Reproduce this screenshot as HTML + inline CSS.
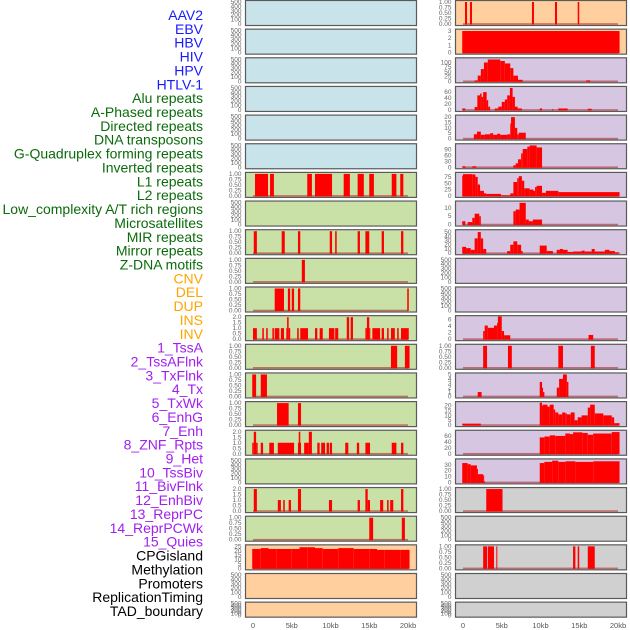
<!DOCTYPE html>
<html><head><meta charset="utf-8">
<style>
html,body{margin:0;padding:0;background:#fff;}
svg{display:block;}
text{font-family:"Liberation Sans",sans-serif;}
</style></head>
<body>
<svg id="chart" width="630" height="630" viewBox="0 0 630 630" xmlns="http://www.w3.org/2000/svg">
<g id="labels"></g>
<g id="panels"></g>
<g id="xaxes"></g>
</svg>
<script>
// ---- track labels ----
const labelNames = ["AAV2","EBV","HBV","HIV","HPV","HTLV-1","Alu repeats","A-Phased repeats","Directed repeats","DNA transposons","G-Quadruplex forming repeats","Inverted repeats","L1 repeats","L2 repeats","Low_complexity A/T rich regions","Microsatellites","MIR repeats","Mirror repeats","Z-DNA motifs","CNV","DEL","DUP","INS","INV","1_TssA","2_TssAFlnk","3_TxFlnk","4_Tx","5_TxWk","6_EnhG","7_Enh","8_ZNF_Rpts","9_Het","10_TssBiv","11_BivFlnk","12_EnhBiv","13_ReprPC","14_ReprPCWk","15_Quies","CPGisland","Methylation","Promoters","ReplicationTiming","TAD_boundary"];
const labelGroups = ["v","v","v","v","v","v","r","r","r","r","r","r","r","r","r","r","r","r","r","s","s","s","s","s","c","c","c","c","c","c","c","c","c","c","c","c","c","c","c","k","k","k","k","k"];
const xTickKb = [0,5,10,15,20];
const xTickLabels = ["0","5kb","10kb","15kb","20kb"];

// ---- panel data: segments [startKb, endKb, value] ----
const segAlu = [[0.26,1.94,1],[2.2,2.7,1],[7.0,7.6,1],[8.0,10.2,1],[11.7,12.5,1],[13.5,14.3,1],[15.0,15.6,1],[17.9,18.5,1],[19.0,19.4,1]];
const segDirected = [[0.1,0.5,1],[3.7,4.1,1],[5.8,6.1,1],[9.9,10.2,1],[10.6,10.8,1],[13.5,13.8,1],[14.5,15.0,1],[16.6,16.9,1],[19.1,19.4,1]];
const segDNA = [[6.3,6.7,1]];
const segGQuad = [[2.8,4.0,1],[4.5,4.8,1],[5.0,5.3,1],[5.8,6.1,1],[19.9,20.1,1]];
const segInverted = [[0,0.5,1],[1.2,1.4,1],[1.7,1.9,1],[2.5,2.7,1],[2.8,3.4,1],[3.6,4.0,1],[4.3,4.4,1],[4.4,4.6,2],[4.6,4.8,1],[5.7,5.9,1],[6.1,7.1,1],[8.0,8.3,1],[8.6,9.0,1],[9.8,10.5,1],[10.6,11.0,1],[12.1,12.4,2],[12.6,12.9,2],[14.5,14.7,1],[14.7,15.0,2],[15.0,15.1,1],[15.4,16.4,1],[16.6,16.9,1],[17.3,17.5,1],[17.8,18.3,1],[18.6,18.8,1],[19.1,20.1,1]];
const segL1 = [[17.8,18.6,1],[19.6,20.2,1]];
const segL2 = [[-0.1,0.4,1],[1.0,1.8,1]];
const segLowComplex = [[3.1,4.6,1],[5.8,6.2,1]];
const segMicro = [[-0.1,0.1,1],[0.1,0.4,2],[0.4,0.6,1],[1.0,1.3,1],[2.1,2.7,1],[3.2,5.3,1],[5.8,6.2,1],[5.9,6.1,2],[6.6,7.2,1],[7.2,7.6,2],[8.3,8.6,1],[8.8,9.3,1],[9.5,9.8,1],[9.9,10.2,1],[11.9,12.3,1],[13.4,13.7,1],[14.5,15.1,1],[17.9,18.5,1],[19.1,19.4,1]];
const segMirror = [[0.1,0.5,2],[3.2,3.6,1],[3.9,4.1,1],[4.6,4.9,1],[5.8,6.2,2],[9.8,10.2,1],[13.5,13.8,1],[14.5,14.8,2],[14.8,15.1,1],[16.4,16.8,1],[17.3,17.5,1],[17.7,18.1,1],[19.1,19.4,2]];
const segZDNA = [[15.0,15.5,1],[19.2,19.6,1]];
const segCNV = [[-0.1,1,22],[1,2,23],[2,3,22],[3,4,22],[4,5,22],[5,6,22],[6,7,24],[7,8,24],[8,9,23],[9,10,22],[10,11,22],[11,12,23],[12,13,23],[13,14,22],[14,15,22],[15,16,22],[16,17,21],[17,18,21],[18,19,21],[19,20.2,21]];
const segINS = [[0.26,0.52,1],[0.9,1.16,1],[8.9,9.16,1],[11.87,12.13,1],[14.8,15.0,1]];
const segINV = [[-0.1,20.2,3]];
const segTssA = [[1.5,1.9,5],[1.9,2.3,30],[2.3,2.7,65],[2.7,3.2,100],[3.2,4.8,116],[4.8,5.4,108],[5.4,6.1,95],[6.1,6.5,70],[6.5,7.1,30],[7.1,7.7,8],[15.9,16.4,5]];
const segTssAFlnk = [[-0.1,0.3,5],[1.5,1.85,10],[1.85,2.2,49],[2.2,2.4,55],[2.4,2.6,44],[2.6,3.05,60],[3.05,3.25,33],[3.25,3.5,11],[4.1,4.55,5],[4.55,5.0,11],[5.0,5.4,27],[5.4,5.7,35],[5.7,6.05,49],[6.05,6.4,74],[6.4,6.7,44],[6.7,7.05,11],[7.05,7.6,5],[9.9,10.2,5],[11.5,11.6,3],[12.3,13.5,5],[16.1,16.6,4]];
const segTxFlnk = [[1.4,1.8,4],[1.8,2.3,6.5],[2.3,2.8,3.5],[2.8,3.5,4],[3.5,3.9,5],[3.9,4.4,3.5],[4.4,4.8,4.5],[4.8,5.7,3.5],[5.7,6.1,4],[6.1,6.2,14],[6.2,6.7,20],[6.7,7.0,10],[7.0,7.2,4],[7.2,8.1,5.5]];
const segTx = [[-0.1,0.3,5],[1.2,1.7,5],[6.5,6.8,10],[6.8,7.1,20],[7.1,7.5,40],[7.5,7.7,70],[7.7,8.3,92],[8.3,8.6,104],[8.6,9.5,110],[9.5,10.2,100]];
const segTxWk = [[-0.1,0.0,80],[0.0,1.2,86],[1.2,1.6,85],[1.6,1.9,75],[1.9,2.2,45],[2.2,2.7,20],[2.7,3.0,10],[3.0,4.9,8],[4.9,6.1,2],[6.1,6.5,10],[6.5,7.0,55],[7.0,7.2,70],[7.2,7.6,78],[7.6,7.9,60],[7.9,8.6,30],[8.6,9.1,25],[9.1,9.3,20],[9.3,9.5,35],[9.5,10.2,40],[10.2,10.7,12],[10.7,12.3,20],[12.3,20.2,15]];
const segEnhG = [[-0.1,0.3,2],[0.6,1.2,1.5],[1.2,1.5,4],[1.5,2.1,6.5],[2.1,2.3,5],[6.5,6.8,8],[6.8,7.3,9],[7.3,8.1,13],[8.1,8.5,3],[8.5,9.0,2],[9.0,10.2,3]];
const segEnh = [[-0.1,0.4,15],[0.4,1.0,12],[1.0,1.5,8],[1.5,1.9,35],[1.9,2.3,50],[2.3,2.6,35],[2.6,3.0,10],[5.7,6.1,5],[6.1,6.5,20],[6.5,7.0,28],[7.0,7.5,20],[7.5,7.7,5],[9.9,10.8,18],[10.8,11.6,5],[12.1,12.5,8],[12.5,12.9,10],[12.9,13.5,8],[13.5,14.2,3],[14.2,15.3,4],[15.3,15.7,6],[15.7,16.6,4],[16.6,17.0,10],[17.0,18.3,4],[18.3,18.9,8],[18.9,19.6,5],[19.6,20.2,2]];
const segTssBiv = [[2.6,2.8,2.5],[2.8,3.2,4.2],[3.2,4.0,3.5],[4.0,4.4,4.2],[4.4,4.5,5],[4.5,5.0,7],[5.0,5.3,2.5],[5.3,6.1,1.2],[16.2,16.8,1.3]];
const segBivFlnk = [[2.6,3.1,1],[5.8,6.3,1],[12.3,12.9,1],[16.5,17.0,1]];
const segEnhBiv = [[1.9,2.4,1],[9.9,10.2,3.3],[10.2,10.3,2],[10.3,10.5,1],[12.1,12.4,2],[12.4,12.9,4],[12.9,13.4,5],[13.4,13.6,3.3]];
const segReprPC = [[-0.1,2.3,1.5],[9.9,10.2,23],[10.2,10.3,20],[10.3,10.9,21],[10.9,11.2,19],[11.2,11.7,21],[11.7,11.9,16],[11.9,12.3,13],[12.3,12.8,11],[12.8,13.2,13],[13.2,13.4,12],[13.4,13.9,11],[13.9,14.4,13],[14.4,14.8,5],[14.8,15.3,8],[15.3,16.1,10],[16.1,16.4,18],[16.4,17.0,21],[17.0,18.1,12],[18.1,19.2,10],[19.2,19.5,8],[19.5,20.2,2]];
const segReprPCWk = [[9.9,10.5,55],[10.5,11.2,58],[11.2,11.9,62],[11.9,13.2,60],[13.2,13.8,68],[13.8,14.2,66],[14.2,15.4,72],[15.4,16.1,70],[16.1,16.8,64],[16.8,19.2,68],[19.2,20.2,73]];
const segQuies = [[-0.1,0.6,33],[0.6,1.0,31],[1.0,1.8,29],[1.8,1.9,23],[1.9,2.6,14],[2.6,2.7,12],[2.7,2.8,2],[9.9,10.5,33],[10.5,11.5,35],[11.5,12.3,37],[12.3,13.2,35],[13.2,14.5,36],[14.5,16.8,35],[16.8,20.2,36]];
const segCPG = [[3.0,5.1,1]];
const segPromoters = [[2.6,3.1,1],[3.2,4.0,1],[4.3,4.4,1],[14.2,14.5,1],[14.8,15.0,1],[16.1,17.0,1]];

// ---- y tick label sets ----
const ticksEmpty = [0,100,200,300,400,500];
const ticksUnit = [0,0.25,0.5,0.75,1];
const ticksTwo = [0,0.5,1,1.5,2];

// panel definitions: [segments, ymax, ticks, decimals, bg]
const BLUE="#c9e3ea", GREEN="#c9e1a6", ORANGE="#ffcf9e", PURPLE="#d6c6e2", GREY="#d0d0d0";
const col1 = [
 [null,500,ticksEmpty,0,BLUE],[null,500,ticksEmpty,0,BLUE],[null,500,ticksEmpty,0,BLUE],[null,500,ticksEmpty,0,BLUE],[null,500,ticksEmpty,0,BLUE],[null,500,ticksEmpty,0,BLUE],
 [segAlu,1,ticksUnit,2,GREEN],[null,500,ticksEmpty,0,GREEN],[segDirected,1,ticksUnit,2,GREEN],[segDNA,1,ticksUnit,2,GREEN],[segGQuad,1,ticksUnit,2,GREEN],
 [segInverted,2,ticksTwo,1,GREEN],[segL1,1,ticksUnit,2,GREEN],[segL2,1,ticksUnit,2,GREEN],[segLowComplex,1,ticksUnit,2,GREEN],[segMicro,2,ticksTwo,1,GREEN],
 [null,500,ticksEmpty,0,GREEN],[segMirror,2,ticksTwo,1,GREEN],[segZDNA,1,ticksUnit,2,GREEN],
 [segCNV,25,[0,5,10,15,20,25],0,ORANGE],[null,500,ticksEmpty,0,ORANGE],[null,500,ticksEmpty,0,ORANGE]
];
const col2 = [
 [segINS,1,ticksUnit,2,ORANGE],[segINV,3.05,[0,1,2,3],0,ORANGE],
 [segTssA,117,[0,25,50,75,100],0,PURPLE],[segTssAFlnk,74,[0,20,40,60],0,PURPLE],[segTxFlnk,20.5,[0,5,10,15,20],0,PURPLE],
 [segTx,111,[0,30,60,90],0,PURPLE],[segTxWk,87,[0,25,50,75],0,PURPLE],[segEnhG,13.2,[0,5,10],0,PURPLE],
 [segEnh,52,[0,10,20,30,40,50],0,PURPLE],[null,500,ticksEmpty,0,PURPLE],[null,500,ticksEmpty,0,PURPLE],
 [segTssBiv,6.8,[0,2,4,6],0,PURPLE],[segBivFlnk,1,ticksUnit,2,PURPLE],[segEnhBiv,5,[0,1,2,3,4,5],0,PURPLE],
 [segReprPC,22.6,[0,5,10,15,20],0,PURPLE],[segReprPCWk,74,[0,20,40,60],0,PURPLE],[segQuies,37.5,[0,10,20,30],0,PURPLE],
 [segCPG,1,ticksUnit,2,GREY],[null,500,ticksEmpty,0,GREY],[segPromoters,1,ticksUnit,2,GREY],[null,500,ticksEmpty,0,GREY],[null,500,ticksEmpty,0,GREY]
];

const NS="http://www.w3.org/2000/svg";
function mk(tag, attrs, parent){const e=document.createElementNS(NS,tag);for(const k in attrs)e.setAttribute(k,attrs[k]);parent.appendChild(e);return e;}

// labels
const groupColor={v:"#1a1aff",r:"#0b6b0b",s:"#ffa500",c:"#a020f0",k:"#000000"};
const gL=document.getElementById("labels");
labelNames.forEach((n,i)=>{
  const t=mk("text",{x:203,y:(15+i*13.86+5).toFixed(1),"text-anchor":"end","font-size":"14",fill:groupColor[labelGroups[i]]},gL);
  
  
  t.textContent=n;
});

// panels
const gP=document.getElementById("panels");
const cols=[{left:245.5,right:416.5,x0:253,data:col1},{left:455.5,right:626.5,x0:463,data:col2}];
const kbPx=7.75;
cols.forEach((c,ci)=>{
  const xs=kb=>c.x0+kb*kbPx;
  c.data.forEach((p,ri)=>{
    const top=0.5+ri*28.65;
    const h=(ri===21)?15:25;
    const bottom=top+h;
    const [segs,ymax,ticks,dec,bg]=p;
    const ys=v=>bottom-1.5-(v/ymax)*(h-3);
    const g=mk("g",{},gP);
    
    
    const r=mk("rect",{x:c.left,y:top,width:c.right-c.left,height:h,fill:bg,stroke:"#5a5a5a","stroke-width":"1.2"},g);
    
    
    ticks.forEach(tv=>{
      const tt=mk("text",{x:c.left-4,y:(ys(tv)+2).toFixed(1),"text-anchor":"end","font-size":"6.5",fill:"#666"},g);
      
      
      tt.textContent=tv.toFixed(dec);
    });
    if(segs){
      const bl=mk("rect",{x:xs(0),y:ys(0)-0.8,width:xs(20)-xs(0),height:1.6,fill:"rgba(170,30,30,0.55)"},g);
      
      
      segs.forEach(s=>{
        const x1=xs(s[0]),x2=xs(s[1]);
        const yt=Math.max(top+0.5,ys(s[2]));
        const b=mk("rect",{x:x1.toFixed(2),y:yt.toFixed(2),width:Math.max(1,x2-x1).toFixed(2),height:(bottom-1-yt).toFixed(2),fill:"#ff0000"},g);
        
        
      });
    }
  });
  // x axis
  const gX=document.getElementById("xaxes");
  xTickKb.forEach((k,i)=>{
    const t=mk("text",{x:xs(k).toFixed(1),y:628,"text-anchor":"middle","font-size":"7.5",fill:"#555"},gX);
    
    
    t.textContent=xTickLabels[i];
  });
});
</script>
</body></html>
